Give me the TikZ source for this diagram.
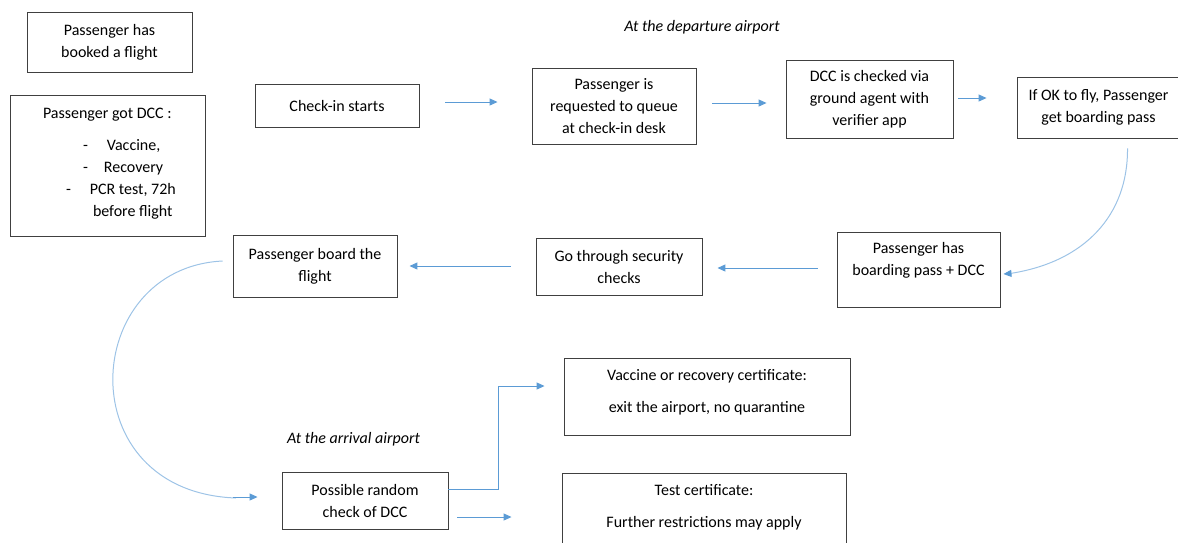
\documentclass[tikz,border=0pt]{standalone}
\usepackage{fontspec}
\setmainfont{Carlito}
\usetikzlibrary{arrows.meta}
\definecolor{boxgray}{RGB}{64,64,64}
\definecolor{arrowblue}{RGB}{91,155,213}
\definecolor{curveblue}{RGB}{157,195,230}
\newcommand{\dccline}[2]{\makebox[175pt][l]{\hspace*{#1}#2}}

\begin{document}
\begin{tikzpicture}[x=1pt,y=-1pt,
	box/.style={draw=boxgray,line width=0.9pt,align=center,inner sep=2pt,font=\fontsize{16}{22}\selectfont},
	flow/.style={draw=arrowblue,line width=1pt,-{Triangle[length=8pt,width=7pt]}},
	swing/.style={draw=curveblue,line width=1pt},
	place/.style={font=\fontsize{16}{22}\selectfont\itshape}]
	\useasboundingbox (0,0) rectangle (1178,542);
	% before the trip
	\node[box,minimum width=165pt,minimum height=60pt] (booked) at (109.5,42) {Passenger has\\booked a flight};
	\node[box,align=left,inner xsep=10pt,minimum width=195pt,minimum height=141pt] (dcc) at (107.5,165.5)
	{\dccline{23pt}{Passenger got DCC :}\\[10pt]
	\dccline{63pt}{-\hspace*{19pt}Vaccine,}\\
	\dccline{63pt}{-\hspace*{16pt}Recovery}\\
	\dccline{46pt}{-\hspace*{19pt}PCR test, 72h}\\
	\dccline{73pt}{before flight}\\[-16pt]\mbox{}};
	% departure airport
	\node[place] (departure) at (702,27) {At the departure airport};
	\node[box,minimum width=164pt,minimum height=43pt] (checkin) at (337,105.5) {Check-in starts};
	\node[box,minimum width=164pt,minimum height=76pt] (queue) at (614,106) {Passenger is\\requested to queue\\at check-in desk};
	\node[box,minimum width=167pt,minimum height=78pt] (checked) at (869.5,99) {DCC is checked via\\ground agent with\\verifier app};
	\node[box,minimum width=163pt,minimum height=61pt] (ok) at (1098.5,107.5) {If OK to fly, Passenger\\get boarding pass};
	\node[box,minimum width=163pt,minimum height=75pt] (haspass) at (918.5,269.5) {Passenger has\\boarding pass + DCC\\\mbox{}};
	\node[box,minimum width=166pt,minimum height=57pt] (security) at (619,266.5) {Go through security\\checks};
	\node[box,minimum width=164pt,minimum height=62pt] (board) at (315,266) {Passenger board the\\flight};
	% arrival airport
	\node[place] (arrival) at (353.5,439) {At the arrival airport};
	\node[box,minimum width=166pt,minimum height=57pt] (random) at (365,500.5) {Possible random\\check of DCC};
	\node[box,minimum width=286pt,minimum height=77pt] (vaccine) at (707,396.5) {Vaccine or recovery certificate:\\[10pt]exit the airport, no quarantine\\[-11pt]\mbox{}};
	\node[box,minimum width=284pt,minimum height=88pt] (test) at (704,517) {Test certificate:\\[10pt]Further restrictions may apply\\\mbox{}};
	% connectors
	\draw[flow] ([xshift=26pt,yshift=3.5pt]checkin.east) -- ([xshift=-34pt,yshift=4pt]queue.west);
	\draw[flow] ([xshift=16pt,yshift=3pt]queue.east) -- ([xshift=-19pt,yshift=-4pt]checked.west);
	\draw[flow] ([xshift=5pt,yshift=1pt]checked.east) -- ([xshift=-30pt,yshift=9.5pt]ok.west);
	\draw[swing] ([xshift=29pt,yshift=-10pt]ok.south) .. controls (1128,215) and (1085,262) .. (1010,273.5);
	\draw[flow] (1010,273.5) -- ([xshift=3pt,yshift=-4.5pt]haspass.east);
	\draw[flow] ([xshift=-19pt,yshift=1.5pt]haspass.west) -- ([xshift=15pt,yshift=-1.5pt]security.east);
	\draw[flow] ([xshift=-25pt,yshift=0.5pt]security.west) -- ([xshift=12pt]board.east);
	\draw[swing] ([xshift=-10pt,yshift=5pt]board.west) .. controls (80,268) and (68,492) .. (236,498);
	\draw[flow] (233,497) -- ([xshift=-24pt,yshift=3.5pt]random.west);
	\draw[flow] ([yshift=11.5pt]random.east) -- ++(50,0) |- ([xshift=-19pt,yshift=10.5pt]vaccine.west);
	\draw[flow] ([xshift=9pt,yshift=-16.5pt]random.east) -- ([xshift=-50pt]test.west);
\end{tikzpicture}
\end{document}
